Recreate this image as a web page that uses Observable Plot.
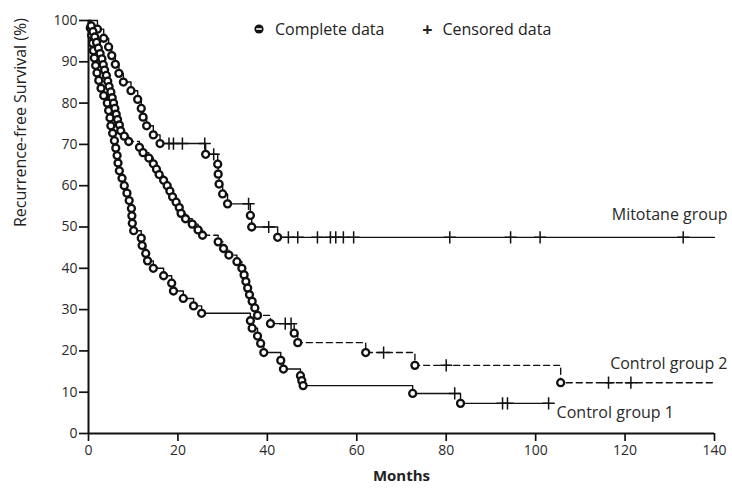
<!DOCTYPE html>
<html><head><meta charset="utf-8">
<script src="https://cdn.jsdelivr.net/npm/d3@7"></script>
<script src="https://cdn.jsdelivr.net/npm/@observablehq/plot@0.6"></script>
<style>
body{margin:0;background:#fff;}
#wrap{position:relative;width:732px;height:489px;font-family:"Open Sans",sans-serif;}
#legend{position:absolute;left:252px;top:18px;display:flex;align-items:center;font-size:16px;color:#222;white-space:nowrap;}
#legend .item{display:flex;align-items:center;}
#legend .sym{display:inline-block;width:14px;text-align:center;margin-right:8px;font-size:18px;line-height:1;font-weight:bold;}
</style></head>
<body><div id="wrap"><div id="chart"></div>
<div id="legend">
<span class="item"><svg width="14" height="14" style="margin-right:9px"><circle cx="7" cy="7" r="4.6" fill="#111"/><line x1="4.2" x2="9.8" y1="7" y2="7" stroke="#fff" stroke-width="1.6"/></svg>Complete data</span>
<span class="item" style="margin-left:36px"><span class="sym">+</span>Censored data</span>
</div></div>
<script>
const xTicks = [0, 20, 40, 60, 80, 100, 120, 140];
const yTicks = [0, 10, 20, 30, 40, 50, 60, 70, 80, 90, 100];
const seriesNames = ["Mitotane group", "Control group 2", "Control group 1"];

// [month, recurrence-free survival % after the event]
const mitotaneEvents = [[2.0,97.9],[3.4,95.7],[4.5,93.6],[5.2,91.5],[6.0,89.4],[6.8,87.2],[7.8,85.1],[9.5,83.0],[11.0,80.9],[11.8,78.7],[12.2,76.6],[13.0,74.5],[14.5,72.3],[16.0,70.2],
  [26.2,67.6],[28.9,65.2],[29.0,62.8],[29.2,60.4],[30.0,58.0],[31.1,55.6],[36.2,52.8],[36.5,50.0],[42.3,47.5]];
const mitotaneCensored = [18.0,19.0,21.0,26.0,28.0,35.8,40.3,44.7,46.8,51.2,54.1,55.3,57.0,59.3,80.8,94.4,101.0,133.0];
const mitotaneEnd = 140;

const control2Events = [[0.6,98.7],[1.0,97.3],[1.4,96.0],[1.8,94.7],[2.2,93.3],[2.6,92.0],[3.0,90.7],[3.3,89.3],[3.6,88.0],[4.0,86.7],[4.3,85.3],[4.6,84.0],
  [5.0,82.7],[5.3,81.3],[5.6,80.0],[5.9,78.7],[6.2,77.3],[6.5,76.0],[6.9,74.7],[7.2,73.3],[8.0,72.0],[9.0,70.7],[11.4,69.3],[12.2,68.0],[13.5,66.7],[14.5,65.3],
  [15.2,64.0],[15.8,62.7],[16.8,61.3],[17.6,60.0],[18.2,58.7],[18.8,57.3],[19.6,56.0],[20.3,54.7],[20.7,53.3],[21.7,52.0],[23.2,50.7],[24.5,49.3],[25.5,48.0],
  [29.0,46.4],[30.2,44.8],[31.4,43.2],[33.2,41.6],[34.3,40.0],[34.8,38.4],[35.2,36.8],[35.6,35.2],[36.0,33.6],[36.6,32.0],[37.2,30.4],[37.8,28.6],[40.7,26.6],
  [46.0,24.3],[46.8,22.0],[62.0,19.6],[73.0,16.5],[105.6,12.3]];
const control2Censored = [44.0,45.3,66.0,80.0,116.3,121.3];
const control2End = 140;

const control1Events = [[0.4,98.2],[0.7,96.4],[0.9,94.5],[1.1,92.7],[1.3,90.9],[1.6,89.1],[1.9,87.3],[2.3,85.5],[2.8,83.6],[3.4,81.8],[4.2,80.0],[4.5,78.2],[4.8,76.4],
  [5.0,74.5],[5.4,72.7],[5.8,70.9],[6.1,69.1],[6.4,67.3],[6.6,65.5],[6.9,63.6],[7.5,61.8],[8.0,60.0],[8.6,58.2],[9.1,56.4],[9.6,54.5],[9.7,52.7],[9.8,50.9],[10.1,49.1],
  [11.8,47.3],[12.0,45.5],[12.8,43.6],[13.2,41.8],[14.5,40.0],[16.8,38.2],[18.6,36.4],[19.0,34.5],[21.2,32.7],[23.5,30.9],[25.3,29.1],
  [36.2,27.3],[36.6,25.5],[37.8,23.6],[38.5,21.8],[39.2,19.6],[43.0,17.7],[43.6,15.6],[47.4,14.0],[47.7,12.8],[48.0,11.6],[72.5,9.7],[83.2,7.3]];
const control1Censored = [81.9,92.6,93.7,102.9];
const control1End = 102.9;

function survAt(events, t) { let s = 100; for (const [m, v] of events) if (m <= t) s = v; return s; }
function build(name, events, censored, end) {
  const line = [{m: 0, s: 100, name}, ...events.map(([m, s]) => ({m, s, name})), {m: end, s: events[events.length - 1][1], name}];
  const ev = events.map(([m, s]) => ({m, s, name}));
  const ce = censored.map(m => ({m, s: survAt(events, m), name}));
  return {line, ev, ce, end, last: events[events.length - 1][1]};
}
const mit = build(seriesNames[0], mitotaneEvents, mitotaneCensored, mitotaneEnd);
const c2 = build(seriesNames[1], control2Events, control2Censored, control2End);
const c1 = build(seriesNames[2], control1Events, control1Censored, control1End);

const ink = "#111";
const chart = Plot.plot({
  width: 732, height: 489,
  marginLeft: 88, marginRight: 18, marginTop: 20, marginBottom: 56,
  style: {fontFamily: "Open Sans, sans-serif", fontSize: "14px", color: "#2a2a2a", background: "white", overflow: "visible"},
  x: {domain: [0, 140]},
  y: {domain: [0, 100]},
  marks: [
    Plot.axisX({ticks: xTicks, tickSize: 8, tickPadding: 4, label: null, stroke: ink, strokeWidth: 1.7}),
    Plot.axisY({ticks: yTicks, tickSize: 9, tickPadding: 2, label: null, stroke: ink, strokeWidth: 1.7}),
    Plot.ruleY([0], {stroke: ink, strokeWidth: 2}),
    Plot.ruleX([0], {stroke: ink, strokeWidth: 2}),
    Plot.line(mit.line, {x: "m", y: "s", curve: "step-after", stroke: ink, strokeWidth: 1.4}),
    Plot.line(c1.line, {x: "m", y: "s", curve: "step-after", stroke: ink, strokeWidth: 1.4}),
    Plot.line(c2.line, {x: "m", y: "s", curve: "step-after", stroke: ink, strokeWidth: 1.4, strokeDasharray: "6,4"}),
    Plot.dot([...mit.ce, ...c1.ce, ...c2.ce], {x: "m", y: "s", symbol: "plus", r: 4, stroke: ink, strokeWidth: 1.5}),
    Plot.dot([...mit.ev, ...c1.ev, ...c2.ev], {x: "m", y: "s", r: 3.5, fill: "white", stroke: ink, strokeWidth: 2.3}),
    Plot.text([{m: mit.end, s: mit.last, t: seriesNames[0]}], {x: "m", y: "s", text: "t", textAnchor: "end", dx: 13, dy: -22, fontSize: 16, fill: "#2a2a2a"}),
    Plot.text([{m: c2.end, s: c2.last, t: seriesNames[1]}], {x: "m", y: "s", text: "t", textAnchor: "end", dx: 13, dy: -19, fontSize: 16, fill: "#2a2a2a"}),
    Plot.text([{m: c1.end, s: c1.last, t: seriesNames[2]}], {x: "m", y: "s", text: "t", textAnchor: "start", dx: 8, dy: 10, fontSize: 16, fill: "#2a2a2a"}),
    Plot.text(["Recurrence-free Survival (%)"], {frameAnchor: "left", rotate: -90, dx: -68, fontSize: 16, fill: "#222"}),
    Plot.text(["Months"], {frameAnchor: "bottom", dy: 47, fontSize: 15, fontWeight: "bold", fill: "#222"})
  ]
});
document.getElementById("chart").appendChild(chart);
</script>
</body></html>
